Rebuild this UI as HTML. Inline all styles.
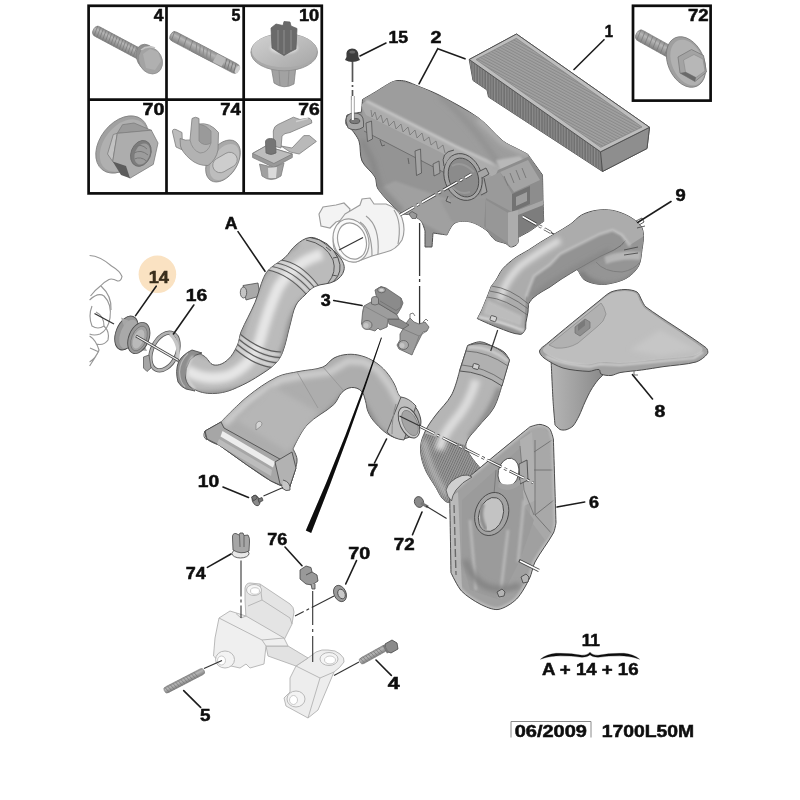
<!DOCTYPE html>
<html lang="en"><head><meta charset="utf-8"><title>Air filter housing - parts diagram 1700L50M</title>
<style>
html,body{margin:0;padding:0;background:#fff}
body{width:800px;height:800px;overflow:hidden}
svg{display:block}
</style></head><body>
<svg width="800" height="800" viewBox="0 0 800 800">
<rect width="800" height="800" fill="#fff"/>

<defs>
<filter id="soft" x="-5%" y="-5%" width="110%" height="110%"><feGaussianBlur stdDeviation="0.75"/></filter>
<filter id="b1" x="-20%" y="-20%" width="140%" height="140%"><feGaussianBlur stdDeviation="1.2"/></filter>
<filter id="b2" x="-30%" y="-30%" width="160%" height="160%"><feGaussianBlur stdDeviation="2.5"/></filter>
<filter id="b4" x="-30%" y="-30%" width="160%" height="160%"><feGaussianBlur stdDeviation="4"/></filter>
<linearGradient id="gBolt" x1="0" y1="0" x2="0" y2="1"><stop offset="0" stop-color="#8c8c8c"/><stop offset=".35" stop-color="#b6b6b6"/><stop offset="1" stop-color="#808080"/></linearGradient>
<linearGradient id="gDisc" x1="0" y1="0" x2="1" y2="1"><stop offset="0" stop-color="#d2d2d2"/><stop offset="1" stop-color="#a6a6a6"/></linearGradient>
<linearGradient id="gHead" x1="0" y1="0" x2="1" y2="1"><stop offset="0" stop-color="#bdbdbd"/><stop offset="1" stop-color="#8a8a8a"/></linearGradient>
<linearGradient id="gBoxTop" x1="0" y1="0" x2="1" y2="1"><stop offset="0" stop-color="#a4a4a4"/><stop offset="1" stop-color="#979797"/></linearGradient>
<linearGradient id="gFilt" gradientUnits="userSpaceOnUse" x1="470" y1="60" x2="650" y2="130"><stop offset="0" stop-color="#9c9c9c"/><stop offset="1" stop-color="#aaaaaa"/></linearGradient>
<pattern id="pleat" width="2.6" height="8" patternUnits="userSpaceOnUse" patternTransform="rotate(-62)"><rect width="2.6" height="8" fill="#a2a2a2"/><rect width="1.1" height="8" fill="#8a8a8a"/></pattern>
<pattern id="pleatS" width="2.7" height="8" patternUnits="userSpaceOnUse"><rect width="2.7" height="8" fill="#6f6f6f"/><rect width="1.2" height="8" fill="#8d8d8d"/></pattern>
<pattern id="corr" width="2.2" height="8" patternUnits="userSpaceOnUse" patternTransform="rotate(25)"><rect width="2.2" height="8" fill="#9a9a9a"/><rect width="0.9" height="8" fill="#727272"/></pattern>
</defs>

<g filter="url(#soft)">
<circle cx="157.400" cy="274.300" r="18.800" fill="#fae2c2"/>
<g fill="none" stroke="#0a0a0a" stroke-width="2.7"><rect x="88.6" y="5.8" width="233.2" height="187.6"/><path d="M166.5 5.8V193.4M243.7 5.8V193.4M88.6 99.6H321.8"/><rect x="633" y="5.8" width="77.6" height="94.8"/></g>
<g transform="translate(93.5 29.5) rotate(28.1)"><rect x="0" y="-5.3" width="59.5" height="10.6" rx="4.2" fill="url(#gBolt)" stroke="#7a7a7a" stroke-width=".6"/><path d="M2.0 -5.3 L3.5 5.3M5.2 -5.3 L6.7 5.3M8.3 -5.3 L9.8 5.3M11.5 -5.3 L13.0 5.3M14.7 -5.3 L16.2 5.3M17.9 -5.3 L19.4 5.3M21.0 -5.3 L22.5 5.3M24.2 -5.3 L25.7 5.3M27.4 -5.3 L28.9 5.3M30.6 -5.3 L32.1 5.3M33.7 -5.3 L35.2 5.3M36.9 -5.3 L38.4 5.3M40.1 -5.3 L41.6 5.3M43.3 -5.3 L44.8 5.3M46.4 -5.3 L47.9 5.3" stroke="#777" stroke-width=".8" fill="none" opacity=".8"/></g>
<g><ellipse cx="147.500" cy="58" rx="10.500" ry="14.500" fill="#8f8f8f" stroke="#7d7d7d" stroke-width=".7" transform="rotate(-28 147.500 58)"/><ellipse cx="150.500" cy="60.500" rx="11.500" ry="14" fill="#a3a3a3" stroke="#858585" stroke-width=".6" transform="rotate(-28 150.500 60.500)"/><path d="M143 54 L150 49 L158 52 L161 61 L155 70 L146 68Z" fill="#b0b0b0"/><path d="M141 50 Q147 45 155 48" stroke="#c4c4c4" stroke-width="1.500" fill="none"/></g>
<g transform="translate(170.6 34.7) rotate(27.6)"><rect x="0" y="-5.1" width="76.6" height="10.2" rx="4.1" fill="url(#gBolt)" stroke="#7a7a7a" stroke-width=".6"/><path d="M2.0 -5.1 L3.5 5.1M8.8 -5.1 L10.3 5.1M15.6 -5.1 L17.1 5.1M22.4 -5.1 L23.9 5.1M29.2 -5.1 L30.7 5.1M36.1 -5.1 L37.6 5.1M42.9 -5.1 L44.4 5.1M49.7 -5.1 L51.2 5.1M56.5 -5.1 L58.0 5.1" stroke="#777" stroke-width=".8" fill="none" opacity=".8"/></g>
<g transform="translate(170.600 34.700) rotate(27.600)"><rect x="26" y="-5.300" width="24" height="10.600" fill="url(#gBolt)"/><path d="M27 -5 l4 10 M31 -5 l4 10 M35 -5 l4 10 M39 -5 l4 10 M43 -5 l4 10" stroke="#8a8a8a" stroke-width="1"/><rect x="50" y="-4.600" width="10" height="9.200" fill="#b9b9b9"/><path d="M61 -4.500 l2 9 M64.500 -4.500 l2 9 M68 -4.500 l2 9 M71.500 -4.500 l2 9" stroke="#777" stroke-width=".9"/><ellipse cx="75.500" cy="0" rx="2" ry="4.200" fill="#cfcfcf"/></g>
<g><path d="M271 66 L274 83 Q284 90 294 84 L296 66Z" fill="#a2a2a2" stroke="#7c7c7c" stroke-width=".7"/><path d="M279 70 L280 86 M289 70 L288 86" stroke="#8a8a8a" stroke-width=".8"/><ellipse cx="284.200" cy="52.200" rx="33.300" ry="18.600" fill="#a9a9a9" stroke="#8a8a8a" stroke-width=".8"/><ellipse cx="284.200" cy="50.500" rx="32.500" ry="16.800" fill="url(#gDisc)"/><ellipse cx="284" cy="48" rx="14" ry="6" fill="#dcdcdc" filter="url(#b1)"/><path d="M271 28 L276 24 L283 25.500 L284 21.500 L290 22 L291 26 L297 28.500 L296 49 L290 52 L284 55.500 L278 52 L272 48Z" fill="#6b6b6b" stroke="#5a5a5a" stroke-width=".7"/><path d="M284 30 L284 54 M278 30 L278 50 M291 30 L291 50" stroke="#8c8c8c" stroke-width="1"/></g>
<g stroke="#7e7e7e" stroke-width=".8"><ellipse cx="122" cy="144.500" rx="22" ry="32" transform="rotate(38 122 144.500)" fill="#a1a1a1"/><ellipse cx="123.500" cy="145.500" rx="19.500" ry="29.500" transform="rotate(38 123.500 145.500)" fill="#b0b0b0" stroke="none"/><path d="M112.700 161.500 L107.500 154 L113.300 134.500 L117.300 133.300Z" fill="#c2c2c2"/><path d="M117.300 133.300 L122.500 124.700 L134 123 L151.800 130.500Z" fill="#9a9a9a"/><path d="M117.300 133.300 L151.300 130.200 L158 143 L153.300 164.400 L130 178.200 L112.700 161.500Z" fill="#adadad"/><path d="M112.700 161.500 L126 166 L130 178.200 L121 175Z" fill="#5c5c5c" stroke="none"/><ellipse cx="140.900" cy="153.400" rx="9.800" ry="13.400" transform="rotate(22 140.900 153.400)" fill="#7c7c7c" stroke="#6a6a6a"/><ellipse cx="142.200" cy="154" rx="7.300" ry="11" transform="rotate(22 142.200 154)" fill="#9c9c9c" stroke="none"/><path d="M135 147 q6 -4 12 2 M134 153 q7 -4 14 2 M134.500 159 q6 -3 12 2" stroke="#787878" stroke-width="1" fill="none"/></g>
<g stroke="#7e7e7e" stroke-width=".8"><ellipse cx="223" cy="161" rx="14.500" ry="23" transform="rotate(32 223 161)" fill="#a9a9a9"/><ellipse cx="224.500" cy="162" rx="12" ry="20" transform="rotate(32 224.500 162)" fill="#bdbdbd" stroke="none"/><rect x="212" y="155" width="26" height="15" rx="7.500" transform="rotate(-30 225 162.500)" fill="#cdcdcd" stroke="#8a8a8a"/><path d="M172.500 132 Q172 128.500 176 129.500 L182 132.500 L182.500 150 L176 147Z" fill="#bcbcbc"/><path d="M180 138.500 Q186 141 190 140 L192 118.500 Q195.500 116 199 118.500 L199 124 Q210 122 218.500 132.500 L218 150 Q216 160 208 165.500 Q198 166 190 159 Q182 152 180.500 146Z" fill="#b2b2b2"/><path d="M199 124 L199 141 Q204 147 211 143 L211 131 Q206 125 199 124Z" fill="#9a9a9a" stroke="#888"/><path d="M190 140 Q192 150 200 153 Q208 153 211 143" fill="none" stroke="#8c8c8c"/></g>
<g stroke="#7e7e7e" stroke-width=".8"><path d="M273.300 131 Q274 126 278 124.500 L293.400 117.200 L300 119.500 L309 118 Q312.500 119.500 311.800 123 L290 132.500 Q284 133 282 136 L281 148 L273.500 146Z" fill="#b5b5b5"/><path d="M296 121.500 L308 118.500" stroke="#d0d0d0" stroke-width="1.500"/><path d="M281 146 L292 148 L303.800 135.600 L309.500 135.600 L316.400 141.400 L299.200 154 L290 152Z" fill="#b9b9b9"/><path d="M252.600 153.400 L265.800 146 L292.300 154 L292.300 157.500 L273.900 167.500 L252.600 157.500Z" fill="#999"/><path d="M252.600 153.400 L265.800 146 L292.300 154 L273.900 163.500Z" fill="#bdbdbd"/><path d="M265.500 142 Q265.500 138.500 270.500 138.500 Q275.600 138.500 275.600 142 L276 153 Q271 156 266 153Z" fill="#747474" stroke="#666"/><path d="M259.500 164 L262 176 Q271 183 281 176 L284 163 L274 167.500Z" fill="#a0a0a0"/><path d="M268 168 L268.500 178 L276 178 L277 167Z" fill="#dadada" stroke="none"/></g>
<g transform="translate(636.5 33.5) rotate(29.1)"><rect x="0" y="-5.8" width="45.2" height="11.5" rx="4.6" fill="url(#gBolt)" stroke="#7a7a7a" stroke-width=".6"/><path d="M2.0 -5.8 L3.5 5.8M6.5 -5.8 L8.0 5.8M11.0 -5.8 L12.5 5.8M15.6 -5.8 L17.1 5.8M20.1 -5.8 L21.6 5.8M24.6 -5.8 L26.1 5.8M29.1 -5.8 L30.6 5.8M33.6 -5.8 L35.1 5.8" stroke="#777" stroke-width=".8" fill="none" opacity=".8"/></g>
<g stroke="#7a7a7a" stroke-width=".8"><ellipse cx="686" cy="62" rx="18" ry="26.500" transform="rotate(-24 686 62)" fill="#9f9f9f"/><ellipse cx="687.500" cy="62.500" rx="15.500" ry="24" transform="rotate(-24 687.500 62.500)" fill="#b1b1b1" stroke="none"/><path d="M678 57 L691.500 49.500 L703.500 55.500 L706.500 72 L695 81.500 L680 73Z" fill="#a3a3a3"/><path d="M683.500 60 L694 54.500 L703 59 L705 71 L696 77.500 L685.500 72Z" fill="#b7b7b7" stroke="#8a8a8a" stroke-width=".6"/><path d="M680 73 L685.500 72 L696 77.500 L695 81.500Z" fill="#6a6a6a" stroke="none"/></g>
<g fill="#fafafa" stroke="#979797" stroke-width="1.150"><path d="M89.600 255.500 Q100 256 111.500 266 Q120 271 122 276.500 Q121 281.500 117.600 281 Q112 278 109 279.400 Q104 282 101 285.500 Q95 290 90.500 296" fill="none"/><path d="M89.600 300 Q98 292 104 296 Q112 304 110 318 Q108 330 100 334 Q94 336 89.600 334" fill="none"/><path d="M101 286 Q112 296 111 310 M96 312 Q104 316 104 326 M92 306 Q88 316 92 326 Q98 330 104 326 M104 326 Q110 332 108 340 Q104 346 96 344 M89.600 336 Q96 340 99 350 Q96 358 89.600 362 M90 348 L99 352 M89.600 366 L96 356" fill="none"/></g>
<g stroke="#4c4c4c" stroke-width=".9"><ellipse cx="126.500" cy="333" rx="10.500" ry="17.800" transform="rotate(22 126.500 333)" fill="#969696"/><path d="M121 317.500 L134 323 L147 351 L132 349Z" fill="#a6a6a6" stroke="none"/><ellipse cx="128.500" cy="334" rx="8" ry="15" transform="rotate(22 128.500 334)" fill="#a9a9a9" stroke="none"/><ellipse cx="138.800" cy="338" rx="10" ry="16.300" transform="rotate(22 138.800 338)" fill="#989898"/><ellipse cx="139" cy="338.500" rx="7.300" ry="13" transform="rotate(22 139 338.500)" fill="#a2a2a2" stroke="#707070" stroke-width=".7"/><ellipse cx="138.500" cy="339" rx="5" ry="10" transform="rotate(22 138.500 339)" fill="#bababa" stroke="none"/></g>
<g fill="none"><ellipse cx="164.500" cy="351.500" rx="12.500" ry="20" transform="rotate(25 164.500 351.500)" stroke="#5a5a5a" stroke-width="4.200"/><ellipse cx="164.500" cy="351.500" rx="12.500" ry="20" transform="rotate(25 164.500 351.500)" stroke="#b2b2b2" stroke-width="2.600"/><path d="M170 334 Q181 344 177 362" stroke="#c6c6c6" stroke-width="3.400"/><path d="M143.500 357 L149 355 L151 368 L147 371.500 L143.500 368Z" fill="#a5a5a5" stroke="#5a5a5a" stroke-width=".8"/></g>
<path d="M94.500 313.500 L114 324" stroke="#333" stroke-width="1.300" fill="none"/>
<path d="M136 336 L178.500 360.500" stroke="#444" stroke-width="2.600" fill="none"/><path d="M136.500 336.300 L178 360.200" stroke="#f4f4f4" stroke-width="1.200" fill="none"/>
<g fill="#f3f3f3" stroke="#9c9c9c" stroke-width="1.150"><path d="M319 214 L323 207 L336 205 L344 203 L350 209 L348 218 L336 222 L330 228 L321 226Z"/><path d="M345 214 L360 205 L362 199 L370 198 L374 204 L386 204 Q398 208 402 218 Q406 230 402 240 Q396 250 386 252 L372 256 L356 262 Q340 262 334 248 Q330 232 345 214Z"/><ellipse cx="351" cy="240.5" rx="17.5" ry="22" transform="rotate(-18 351 240.5)" fill="#fafafa"/><ellipse cx="352" cy="241" rx="14" ry="18.5" transform="rotate(-18 352 241)" fill="#fff"/><path d="M360 222 Q372 230 372 256 M366 216 Q380 226 378 254 M394 210 Q402 222 398 244" fill="none"/></g>
<clipPath id="c7"><path d="M205.0 431.0 C205.0 431.0 221.0 422.0 221.0 422.0 C221.0 422.0 237.2 404.9 247.0 397.0 C256.8 389.1 265.7 382.6 277.0 377.0 C284.1 373.5 291.2 373.2 299.0 371.5 C307.4 369.7 315.0 370.1 323.0 367.0 C327.6 365.2 329.6 360.3 334.0 358.0 C338.3 355.8 342.6 354.8 347.5 354.4 C352.3 354.0 356.6 354.5 361.3 355.8 C366.4 357.2 370.6 359.2 375.0 362.0 C379.3 364.8 382.6 367.8 386.0 371.6 C389.4 375.5 391.8 379.4 394.3 384.0 C396.6 388.1 396.8 392.7 399.8 396.4 C401.8 398.9 405.5 398.5 408.0 400.5 C412.0 403.7 415.9 406.4 418.0 411.0 C420.3 416.1 422.1 421.8 420.0 427.0 C417.8 432.5 412.7 436.2 407.0 438.0 C401.6 439.7 396.1 438.5 391.0 436.0 C384.4 432.8 380.0 427.8 375.0 422.5 C371.9 419.2 369.8 415.7 368.0 411.5 C366.4 407.9 366.6 404.3 365.4 400.5 C364.3 397.1 363.9 393.5 361.3 391.0 C358.7 388.5 355.2 387.3 351.6 387.5 C347.9 387.8 344.7 389.7 342.0 392.3 C338.3 395.9 337.5 401.1 333.8 404.6 C325.1 412.6 315.0 416.3 307.0 425.0 C300.4 432.2 293.0 449.0 293.0 449.0 C293.0 449.0 296.6 455.2 297.0 459.0 C297.4 462.9 296.0 466.2 295.0 470.0 C293.2 476.7 289.0 489.0 289.0 489.0 C289.0 489.0 277.0 484.4 271.0 481.0 C262.2 476.0 255.3 470.7 247.0 465.0 C237.1 458.1 219.0 445.0 219.0 445.0 C219.0 445.0 210.3 442.3 207.0 439.0 C205.0 437.0 205.0 431.0 205.0 431.0Z"/></clipPath>
<path d="M205.0 431.0 C205.0 431.0 221.0 422.0 221.0 422.0 C221.0 422.0 237.2 404.9 247.0 397.0 C256.8 389.1 265.7 382.6 277.0 377.0 C284.1 373.5 291.2 373.2 299.0 371.5 C307.4 369.7 315.0 370.1 323.0 367.0 C327.6 365.2 329.6 360.3 334.0 358.0 C338.3 355.8 342.6 354.8 347.5 354.4 C352.3 354.0 356.6 354.5 361.3 355.8 C366.4 357.2 370.6 359.2 375.0 362.0 C379.3 364.8 382.6 367.8 386.0 371.6 C389.4 375.5 391.8 379.4 394.3 384.0 C396.6 388.1 396.8 392.7 399.8 396.4 C401.8 398.9 405.5 398.5 408.0 400.5 C412.0 403.7 415.9 406.4 418.0 411.0 C420.3 416.1 422.1 421.8 420.0 427.0 C417.8 432.5 412.7 436.2 407.0 438.0 C401.6 439.7 396.1 438.5 391.0 436.0 C384.4 432.8 380.0 427.8 375.0 422.5 C371.9 419.2 369.8 415.7 368.0 411.5 C366.4 407.9 366.6 404.3 365.4 400.5 C364.3 397.1 363.9 393.5 361.3 391.0 C358.7 388.5 355.2 387.3 351.6 387.5 C347.9 387.8 344.7 389.7 342.0 392.3 C338.3 395.9 337.5 401.1 333.8 404.6 C325.1 412.6 315.0 416.3 307.0 425.0 C300.4 432.2 293.0 449.0 293.0 449.0 C293.0 449.0 296.6 455.2 297.0 459.0 C297.4 462.9 296.0 466.2 295.0 470.0 C293.2 476.7 289.0 489.0 289.0 489.0 C289.0 489.0 277.0 484.4 271.0 481.0 C262.2 476.0 255.3 470.7 247.0 465.0 C237.1 458.1 219.0 445.0 219.0 445.0 C219.0 445.0 210.3 442.3 207.0 439.0 C205.0 437.0 205.0 431.0 205.0 431.0Z" fill="#adadad" stroke="#4c4c4c" stroke-width="1"/>
<g clip-path="url(#c7)"><path d="M224 424 L250 400 L280 380 L300 376 L330 372 L348 361 L364 362 L378 370 L390 386 L400 404" stroke="#cdcdcd" stroke-width="7" fill="none" filter="url(#b2)"/><path d="M296 452 L310 430 L334 408 L344 396 L358 396 L366 410 L376 428 L392 442" stroke="#858585" stroke-width="6" fill="none" filter="url(#b2)"/><path d="M236 420 L288 452 L318 412 L272 386Z" fill="#b6b6b6" filter="url(#b2)"/><path d="M297 372 L318 408 M323 367 L343 390" stroke="#949494" stroke-width=".8" fill="none"/></g>
<g stroke="#4c4c4c" stroke-width=".9"><path d="M205 431 L221 422 L224 428 L296 468 L289 489 L271 481 L247 465 L219 445 L207 439Z" fill="#a6a6a6"/><path d="M222.500 431 L275 462 L273 467.500 L220.500 436.500Z" fill="#ececec" stroke="none"/><path d="M219 439 L272 470 L271 476 L217 444Z" fill="#bcbcbc" stroke="none"/><path d="M275 462 L292 452 L296 468 L289 489 L280 484Z" fill="#b2b2b2"/><path d="M283 480 Q291 482 290 490 Q286 492 282 488" fill="#c6c6c6"/><path d="M205 431 q-3 6 2 9" fill="none"/></g>
<path d="M256 424 q3 -5 6 -1 q0 3 -2 4 l-4 3z" fill="#d5d5d5" stroke="#777" stroke-width=".6"/>
<g stroke="#4c4c4c" stroke-width=".9"><path d="M401 397 Q409 398 416 406 L404 440 Q393 439 387 432Z" fill="#bdbdbd"/><path d="M396 404 Q392 416 392 434" stroke="#8c8c8c" stroke-width="1" fill="none"/><ellipse cx="409" cy="422.500" rx="9.300" ry="16.500" transform="rotate(-24 409 422.500)" fill="#c9c9c9"/><ellipse cx="410" cy="423" rx="7" ry="13.500" transform="rotate(-24 410 423)" fill="#a4a4a4" stroke="#777" stroke-width=".7"/></g>
<clipPath id="cA"><path d="M192.5 352.5 C196.7 351.8 200.4 353.9 204.0 356.0 C208.1 358.4 209.4 364.2 214.0 365.0 C219.0 365.8 223.7 363.3 227.5 360.0 C232.3 355.9 234.8 350.7 237.5 345.0 C239.5 340.8 239.2 336.4 241.0 332.0 C245.4 321.4 250.6 313.1 255.0 302.5 C258.6 293.9 260.0 286.0 263.7 277.5 C265.3 274.0 267.2 271.1 270.0 268.5 C274.7 264.0 280.2 261.9 285.0 257.5 C289.3 253.6 291.4 248.6 296.0 245.0 C300.3 241.5 304.5 238.1 310.0 237.5 C314.6 237.0 318.6 239.4 322.5 242.0 C329.3 246.5 335.0 251.0 340.0 257.5 C342.8 261.1 345.0 265.5 344.0 270.0 C343.0 274.9 339.3 278.5 335.0 281.0 C328.7 284.6 321.6 283.4 315.0 286.5 C310.8 288.4 308.3 291.8 305.0 295.0 C301.6 298.3 298.1 300.8 296.0 305.0 C292.7 311.5 292.0 318.0 290.0 325.0 C287.3 334.6 286.1 343.2 282.5 352.5 C280.8 357.0 278.4 360.6 275.0 364.0 C270.4 368.6 265.5 371.5 260.0 375.0 C254.1 378.8 248.9 382.0 242.5 385.0 C235.7 388.2 229.8 391.1 222.5 392.5 C215.6 393.8 209.3 394.0 202.5 392.5 C196.8 391.3 192.3 388.3 187.5 385.0 C183.9 382.5 180.0 380.2 178.7 376.0 C177.1 370.6 177.2 364.8 180.0 360.0 C182.6 355.6 187.5 353.3 192.5 352.5Z"/></clipPath>
<g stroke="#4c4c4c" stroke-width=".8"><path d="M243 285.500 L258 283 L260 296 L246 300 Z" fill="#a9a9a9"/><ellipse cx="243.500" cy="292.500" rx="3.200" ry="5.500" fill="#c4c4c4"/></g>
<path d="M192.5 352.5 C196.7 351.8 200.4 353.9 204.0 356.0 C208.1 358.4 209.4 364.2 214.0 365.0 C219.0 365.8 223.7 363.3 227.5 360.0 C232.3 355.9 234.8 350.7 237.5 345.0 C239.5 340.8 239.2 336.4 241.0 332.0 C245.4 321.4 250.6 313.1 255.0 302.5 C258.6 293.9 260.0 286.0 263.7 277.5 C265.3 274.0 267.2 271.1 270.0 268.5 C274.7 264.0 280.2 261.9 285.0 257.5 C289.3 253.6 291.4 248.6 296.0 245.0 C300.3 241.5 304.5 238.1 310.0 237.5 C314.6 237.0 318.6 239.4 322.5 242.0 C329.3 246.5 335.0 251.0 340.0 257.5 C342.8 261.1 345.0 265.5 344.0 270.0 C343.0 274.9 339.3 278.5 335.0 281.0 C328.7 284.6 321.6 283.4 315.0 286.5 C310.8 288.4 308.3 291.8 305.0 295.0 C301.6 298.3 298.1 300.8 296.0 305.0 C292.7 311.5 292.0 318.0 290.0 325.0 C287.3 334.6 286.1 343.2 282.5 352.5 C280.8 357.0 278.4 360.6 275.0 364.0 C270.4 368.6 265.5 371.5 260.0 375.0 C254.1 378.8 248.9 382.0 242.5 385.0 C235.7 388.2 229.8 391.1 222.5 392.5 C215.6 393.8 209.3 394.0 202.5 392.5 C196.8 391.3 192.3 388.3 187.5 385.0 C183.9 382.5 180.0 380.2 178.7 376.0 C177.1 370.6 177.2 364.8 180.0 360.0 C182.6 355.6 187.5 353.3 192.5 352.5Z" fill="#bbbbbb" stroke="#4c4c4c" stroke-width="1"/>
<g clip-path="url(#cA)"><path d="M186 370 Q205 382 228 376 Q252 366 260 340 Q268 310 278 288 Q294 262 322 254" stroke="#e6e6e6" stroke-width="11" fill="none" filter="url(#b2)"/><path d="M190 394 Q230 400 262 380 Q284 364 290 330 Q296 302 320 290" stroke="#8a8a8a" stroke-width="7" fill="none" filter="url(#b2)"/><path d="M196 351 Q216 361 230 355 Q239 344 243 326 Q251 300 261 280 Q269 264 298 243" stroke="#939393" stroke-width="4" fill="none" filter="url(#b2)"/><path d="M239.500 336.500 Q261 354.500 280.500 354.700 M238 341.500 Q259 359.500 279.500 360.200 M236 346.500 Q257 364.500 277.500 365.500" stroke="#e2e2e2" stroke-width="2" fill="none" filter="url(#b1)"/><path d="M240 334 Q262 352 281 352 M238.500 339 Q260 357 280 357.500 M237 344 Q258 362 278.500 363 M235 349 Q256 367 276 368" stroke="#5e5e5e" stroke-width="1.100" fill="none"/><path d="M270 268.200 Q290 272 308 292 M274 264.700 Q294 268 312 288.500 M278 261.500 Q298 264 316 286" stroke="#e2e2e2" stroke-width="2" fill="none" filter="url(#b1)"/><path d="M268 270 Q288 274 306 294 M272 266.500 Q292 270 310 290 M276 263 Q296 266 314 287 M280 260 Q300 262 318 285" stroke="#5e5e5e" stroke-width="1.100" fill="none"/></g>
<g stroke="#4c4c4c" stroke-width=".9" fill="none"><path d="M310 237.500 Q330 240 338 258 Q344 272 333 282" stroke-width="1"/><path d="M306 240 Q326 244 333 260 Q337 272 328 283" /><path d="M326 247 L331 251 M333 258 L338 257 M332 275 L337 276" /></g>
<g stroke="#4c4c4c" stroke-width=".9"><path d="M192 350 Q183 354 178.500 362 Q175 371 178 382 Q181 387 186 389 L195 391 Q187 386 185.500 378 Q185 368 190 360 Q195 354 202 353Z" fill="#8e8e8e"/><path d="M188 353.500 Q180 361 179.500 372 Q180 382 185 387" stroke="#b4b4b4" stroke-width="1.200" fill="none"/><path d="M193 356 Q187 364 187.500 375 Q189 384 195 389" stroke="#d6d6d6" stroke-width="2" fill="none" filter="url(#b1)"/></g>
<g stroke="#4c4c4c" stroke-width=".9"><path d="M469.200 59.500 L516.500 34 L649.500 127.300 L647 148.500 L602.500 171.500 L488.500 97 L487 90 L473 80.500Z" fill="#7d7d7d"/><path d="M469.200 59.500 L600.500 151.800 L602.500 171.500 L488.500 97 L487 90 L473 80.500Z" fill="url(#pleatS)" stroke="none"/><path d="M600.500 151.800 L649.500 127.300 L647 148.500 L602.500 171.500Z" fill="#8e8e8e"/><path d="M469.200 59.500 L516.500 34 L649.500 127.300 L600.500 151.800Z" fill="#bdbdbd"/><path d="M476 59.500 L516.300 38.300 L642 127 L600.800 147.300Z" fill="url(#pleat)" stroke="#7a7a7a" stroke-width=".6"/></g>
<clipPath id="cB"><path d="M361.5 112.0 C361.5 112.0 362.5 99.5 362.5 99.5 C362.5 99.5 372.5 93.7 377.0 91.0 C381.1 88.5 385.7 85.2 390.0 83.0 C392.1 81.9 394.7 80.9 397.0 80.6 C399.7 80.3 402.9 80.5 405.5 81.2 C409.9 82.4 414.8 84.8 419.0 86.5 C425.3 89.1 432.9 91.8 439.0 95.0 C451.8 101.7 467.0 109.6 478.7 118.0 C487.3 124.2 494.7 134.4 503.0 141.0 C507.1 144.3 513.0 146.5 517.7 149.0 C520.8 150.6 527.5 154.0 527.5 154.0 C527.5 154.0 542.5 175.0 542.5 175.0 C542.5 175.0 543.0 200.0 543.0 200.0 C543.0 200.0 543.7 221.3 543.7 221.3 C543.7 221.3 530.0 231.0 530.0 231.0 C530.0 231.0 518.0 237.5 518.0 237.5 C518.0 237.5 518.7 242.1 517.5 243.7 C516.1 245.5 513.3 247.0 511.0 247.0 C509.1 247.0 507.7 244.5 506.0 243.7 C502.7 242.2 498.0 242.1 495.0 240.0 C491.5 237.6 489.4 232.5 486.0 230.0 C481.6 226.8 475.9 223.2 470.6 222.0 C465.8 220.9 459.3 220.6 455.0 223.0 C451.0 225.2 447.0 235.0 447.0 235.0 C447.0 235.0 433.0 233.0 433.0 233.0 C433.0 233.0 432.0 247.0 432.0 247.0 C432.0 247.0 425.0 247.0 425.0 247.0 C425.0 247.0 425.0 231.0 425.0 231.0 C425.0 231.0 423.2 223.6 421.0 221.0 C418.6 218.2 414.4 216.4 411.0 215.0 C408.0 213.8 403.5 215.0 401.0 213.0 C392.8 206.5 384.1 197.5 378.0 189.0 C375.7 185.8 376.9 180.4 375.0 177.0 C371.8 171.4 364.6 166.9 362.0 161.0 C359.4 155.2 361.0 147.1 359.0 141.0 C357.7 137.1 352.0 130.0 352.0 130.0 C352.0 130.0 346.8 126.5 346.0 124.0 C345.1 121.3 347.0 115.0 347.0 115.0 C347.0 115.0 361.5 112.0 361.5 112.0Z"/></clipPath>
<path d="M361.5 112.0 C361.5 112.0 362.5 99.5 362.5 99.5 C362.5 99.5 372.5 93.7 377.0 91.0 C381.1 88.5 385.7 85.2 390.0 83.0 C392.1 81.9 394.7 80.9 397.0 80.6 C399.7 80.3 402.9 80.5 405.5 81.2 C409.9 82.4 414.8 84.8 419.0 86.5 C425.3 89.1 432.9 91.8 439.0 95.0 C451.8 101.7 467.0 109.6 478.7 118.0 C487.3 124.2 494.7 134.4 503.0 141.0 C507.1 144.3 513.0 146.5 517.7 149.0 C520.8 150.6 527.5 154.0 527.5 154.0 C527.5 154.0 542.5 175.0 542.5 175.0 C542.5 175.0 543.0 200.0 543.0 200.0 C543.0 200.0 543.7 221.3 543.7 221.3 C543.7 221.3 530.0 231.0 530.0 231.0 C530.0 231.0 518.0 237.5 518.0 237.5 C518.0 237.5 518.7 242.1 517.5 243.7 C516.1 245.5 513.3 247.0 511.0 247.0 C509.1 247.0 507.7 244.5 506.0 243.7 C502.7 242.2 498.0 242.1 495.0 240.0 C491.5 237.6 489.4 232.5 486.0 230.0 C481.6 226.8 475.9 223.2 470.6 222.0 C465.8 220.9 459.3 220.6 455.0 223.0 C451.0 225.2 447.0 235.0 447.0 235.0 C447.0 235.0 433.0 233.0 433.0 233.0 C433.0 233.0 432.0 247.0 432.0 247.0 C432.0 247.0 425.0 247.0 425.0 247.0 C425.0 247.0 425.0 231.0 425.0 231.0 C425.0 231.0 423.2 223.6 421.0 221.0 C418.6 218.2 414.4 216.4 411.0 215.0 C408.0 213.8 403.5 215.0 401.0 213.0 C392.8 206.5 384.1 197.5 378.0 189.0 C375.7 185.8 376.9 180.4 375.0 177.0 C371.8 171.4 364.6 166.9 362.0 161.0 C359.4 155.2 361.0 147.1 359.0 141.0 C357.7 137.1 352.0 130.0 352.0 130.0 C352.0 130.0 346.8 126.5 346.0 124.0 C345.1 121.3 347.0 115.0 347.0 115.0 C347.0 115.0 361.5 112.0 361.5 112.0Z" fill="#949494" stroke="#4c4c4c" stroke-width="1"/>
<g clip-path="url(#cB)"><path d="M378 189 L395 181 L447 199 L486 196 L500 228 L486 230 L470 222 L455 223 L447 236 L421 222 L401 213Z" fill="#a0a0a0" filter="url(#b1)"/><path d="M440 200 L486 197 L494 236 L470 222 L452 222Z" fill="#999" filter="url(#b1)"/><path d="M362 140 L372 160 L380 188 L402 212" stroke="#868686" stroke-width="5" fill="none" filter="url(#b2)"/><path d="M362 108 L372 104 L456 148 L500 168 L492 182 L447 174 L364 131Z" fill="#9f9f9f"/><path d="M364 131 L447 174" stroke="#6e6e6e" stroke-width="1" fill="none"/><path d="M362 100 L393 80 L420 86 L480 118 L504 141 L530 154 L534 165 L500 170 L456 147 L366 101Z" fill="#9d9d9d"/><path d="M361 105 L366.500 100.500 L456 146 L500 168 L496 178 L452 158 L366 115Z" fill="#acacac"/><path d="M366.500 101 L456 146.500 L498 166" stroke="#c4c4c4" stroke-width="3" filter="url(#b1)" fill="none"/><path d="M440 96 Q470 120 500 166" stroke="#939393" stroke-width="6" filter="url(#b2)" fill="none"/><path d="M478 119 L502 142 L528 155" stroke="#b6b6b6" stroke-width="4" filter="url(#b2)" fill="none"/><path d="M496 160 L520 156 L528 166 L502 176Z" fill="#b8b8b8" filter="url(#b1)"/><path d="M371 110 l1 7 l3 -5 l2 8 l4 -5 l2 8 l4 -5 l2 8 l5 -5 l2 8 l5 -5 l2 8 l5 -5 l2 8 l5 -5 l2 8 l5 -5 l2 8 l5 -4 l2 8 l5 -4 l2 8 l5 -4 l2 8" stroke="#767676" stroke-width=".8" fill="none"/><path d="M498 170 L530 156 L543 176 L544 222 L518 238 L511 247 L494 240 L484 226 L486 196Z" fill="#8d8d8d"/><path d="M500 172 L528 160 L540 180 L514 192Z" fill="#a4a4a4"/><path d="M504 176 l4 10 M510 173 l4 10 M516 170 l4 10 M522 168 l4 10" stroke="#7a7a7a" stroke-width="1"/><path d="M512 194 L530 186 L530 204 L512 212Z" fill="#727272"/><path d="M516 197 L527 192 L527 201 L516 206Z" fill="#9e9e9e"/><path d="M518 210 L543.500 200 L543.700 221.300 L518 237.500Z" fill="#7d7d7d"/><path d="M518 210 L543.500 200 L543.500 205 L518 215Z" fill="#a6a6a6"/><path d="M508 212.500 L518 210 L518 244 L511 247 L508 244Z" fill="#adadad"/><path d="M486 200 L508 213 L508 243 L486 228Z" fill="#979797"/><path d="M484 180 L500 172 L512 194 L512 212 L486 198Z" fill="#9a9a9a"/></g>
<g stroke="#4c4c4c" stroke-width=".8"><path d="M346 121 Q346 113 354 113 Q363.500 113 363.500 122 L363.500 127 Q356 132 348 128Z" fill="#a6a6a6"/><ellipse cx="354.800" cy="121" rx="5" ry="2.600" fill="#7a7a7a"/></g>
<g stroke="#4c4c4c" stroke-width=".7" fill="#a3a3a3"><path d="M366 123 l5.500 -2 l1 18 l-5 2.500z"/><path d="M415 151 l5.500 -2 l1 24 l-5 2.500z"/><path d="M433 164 l6 -3 l1 12 l-6 3z"/><path d="M380 140 l2 6 l3 -1 M408 158 l1 6" fill="none"/></g>
<g stroke="#4c4c4c" stroke-width=".9"><ellipse cx="463" cy="177" rx="18.500" ry="24" transform="rotate(-20 463 177)" fill="#a5a5a5"/><ellipse cx="463.500" cy="177.500" rx="14.500" ry="20" transform="rotate(-20 463.500 177.500)" fill="#8b8b8b"/><path d="M452 166 Q462 160 474 172 M450 184 Q458 196 470 192" fill="none" stroke="#999" stroke-width="2"/><path d="M444 166 Q440 152 454 150 M478 172 l8 -4 l3 6 l-7 4 M484 178 l3 14 l-6 3 M448 196 l-2 5 l5 2" fill="#a5a5a5"/></g>
<g stroke="#4c4c4c" stroke-width=".7" fill="#9a9a9a"><path d="M409 214 l3 -2.500 l5 3 l-1 4 l-4 0z"/></g>
<path d="M400.0 215.0 L471.5 174.0" stroke="#3a3a3a" stroke-width="3.0" stroke-dasharray="16 3 3 3" fill="none"/><path d="M400.0 215.0 L471.5 174.0" stroke="#fff" stroke-width="1.6" stroke-dasharray="16 3 3 3" fill="none"/>
<path d="M522.5 216.5 L551.0 232.5" stroke="#3a3a3a" stroke-width="3.0" stroke-dasharray="16 3 3 3" fill="none"/><path d="M522.5 216.5 L551.0 232.5" stroke="#fff" stroke-width="1.6" stroke-dasharray="16 3 3 3" fill="none"/>
<path d="M339 250 L363 237.500" stroke="#333" stroke-width="1.2" fill="none"/>
<path d="M551 232.500 L566 241" stroke="#333" stroke-width="1.2" stroke-dasharray="9 2 2 2" fill="none"/>
<path d="M419.600 223 L419.600 327" stroke="#333" stroke-width="1.300" stroke-dasharray="53 3 3 4 41" fill="none"/>
<path d="M352.500 62 L352.500 100" stroke="#555" stroke-width="1.700" stroke-dasharray="20 3 2 3 12" fill="none"/>
<path d="M352.800 96 L352.800 120" stroke="#fff" stroke-width="2.400" fill="none"/><path d="M351.3 96 L351.3 120 M354.300 96 L354.300 120" stroke="#666" stroke-width=".6" fill="none"/>
<g><path d="M346.500 57 Q345 49 352 48.500 Q359 48.500 358.500 57 L360 60 Q352 64 345 60Z" fill="#3c3c3c"/><ellipse cx="352.300" cy="52" rx="3" ry="1.600" fill="#666"/></g>
<g stroke="#5e5e5e" stroke-width=".8"><path d="M403 329 L407 322 L410 318 L414 322 L419 324 L425 322 L429 327 L427 331 L423 332 L414 350 L412 355 L399 349 L397 345 L400 340 L400 334Z" fill="#9c9c9c"/><path d="M403 329 L419 336 L427 331 M419 336 L414 350" fill="none" stroke="#787878"/><path d="M410 318 l0 -4 l3 -1 l2 3 M423 322 l3 -3 l2 2" fill="none"/><ellipse cx="403.500" cy="345" rx="5" ry="4.500" fill="#ababab"/><ellipse cx="402" cy="345.500" rx="2.500" ry="2.500" fill="#c4c4c4" stroke="none"/><path d="M388 319 L399 319 L409 325 L403 329 L389 324Z" fill="#8c8c8c"/><path d="M364 306 L371 302 L380 304 L397 315 L399 319 L388 319 L387 327 L380 330 L378 328 L375 331 L365 328 L361.500 324 L362.500 313Z" fill="#9d9d9d"/><path d="M364 306 L388 319 L387 327 M364 306 L362.500 313" fill="none" stroke="#808080"/><ellipse cx="367" cy="325" rx="5" ry="4.500" fill="#adadad"/><ellipse cx="366" cy="325.500" rx="2.500" ry="2.500" fill="#c6c6c6" stroke="none"/><path d="M375 290 L381 286.500 L386 288 L401 298 L403 303 L401 308 L397 314.500 L379 304 L376 295Z" fill="#8b8b8b"/><path d="M380 301 L396 310.500 L401 307 L401 298" fill="none" stroke="#707070"/><ellipse cx="381.500" cy="290" rx="4" ry="2.800" fill="#a9a9a9"/><ellipse cx="381.500" cy="290.200" rx="2" ry="1.400" fill="#d0d0d0" stroke="none"/><path d="M371.500 299 Q371.500 296.500 375 296.500 Q378.500 296.500 378.500 299 L378.500 304 Q375 306 371.500 304Z" fill="#a2a2a2"/></g>
<clipPath id="cL"><path d="M467.7 345.5 C467.7 345.5 475.5 341.7 480.0 341.8 C484.4 341.9 487.9 344.3 492.0 346.0 C496.3 347.8 500.3 349.1 504.0 352.0 C506.7 354.1 509.5 360.0 509.5 360.0 C509.5 360.0 502.0 385.0 502.0 385.0 C502.0 385.0 498.0 400.6 493.7 408.0 C489.3 415.7 482.9 420.5 477.5 427.5 C473.2 433.0 467.8 437.0 466.0 443.7 C464.9 447.7 467.8 451.4 470.0 455.0 C473.5 460.7 482.0 470.0 482.0 470.0 C482.0 470.0 460.0 500.0 460.0 500.0 C460.0 500.0 450.7 504.3 446.6 502.0 C440.6 498.6 438.7 491.8 435.0 486.0 C430.8 479.4 426.7 473.9 424.0 466.5 C421.6 460.0 420.3 453.9 420.6 447.0 C420.8 441.0 423.0 436.1 425.5 430.7 C428.1 425.1 431.4 421.0 435.0 416.0 C440.5 408.4 447.0 403.2 451.5 395.0 C455.8 387.1 459.6 370.6 459.6 370.6 C459.6 370.6 467.7 345.5 467.7 345.5Z"/></clipPath>
<path d="M467.7 345.5 C467.7 345.5 475.5 341.7 480.0 341.8 C484.4 341.9 487.9 344.3 492.0 346.0 C496.3 347.8 500.3 349.1 504.0 352.0 C506.7 354.1 509.5 360.0 509.5 360.0 C509.5 360.0 502.0 385.0 502.0 385.0 C502.0 385.0 498.0 400.6 493.7 408.0 C489.3 415.7 482.9 420.5 477.5 427.5 C473.2 433.0 467.8 437.0 466.0 443.7 C464.9 447.7 467.8 451.4 470.0 455.0 C473.5 460.7 482.0 470.0 482.0 470.0 C482.0 470.0 460.0 500.0 460.0 500.0 C460.0 500.0 450.7 504.3 446.6 502.0 C440.6 498.6 438.7 491.8 435.0 486.0 C430.8 479.4 426.7 473.9 424.0 466.5 C421.6 460.0 420.3 453.9 420.6 447.0 C420.8 441.0 423.0 436.1 425.5 430.7 C428.1 425.1 431.4 421.0 435.0 416.0 C440.5 408.4 447.0 403.2 451.5 395.0 C455.8 387.1 459.6 370.6 459.6 370.6 C459.6 370.6 467.7 345.5 467.7 345.5Z" fill="#b5b5b5" stroke="#4c4c4c" stroke-width="1"/>
<g clip-path="url(#cL)"><path d="M420 432 L468 446 L486 470 L452 510 L418 470Z" fill="url(#corr)"/><path d="M476 380 Q470 404 452 424 Q440 440 440 450" stroke="#dcdcdc" stroke-width="9" fill="none" filter="url(#b2)"/><path d="M500 388 Q492 412 470 438" stroke="#808080" stroke-width="5" fill="none" filter="url(#b2)"/><path d="M424 440 Q428 470 448 496" stroke="#bdbdbd" stroke-width="4" fill="none" filter="url(#b2)"/></g>
<g stroke="#4c4c4c" stroke-width=".9"><path d="M467.700 345.500 Q480 341.500 492 346 Q504 351 509.500 360 L502 386 Q482 372 459.600 371Z" fill="#b0b0b0"/><path d="M466 351 Q488 352 508 366 M462 365 Q484 367 504 381" fill="none" stroke="#6a6a6a"/><path d="M468 347.500 Q488 346 508 361" fill="none" stroke="#d8d8d8" stroke-width="2" filter="url(#b1)"/><rect x="473" y="364" width="6" height="5" rx="1" fill="#d0d0d0" transform="rotate(15 476 366)"/></g>
<clipPath id="c6"><path d="M449.7 496.6 C449.7 496.6 452.0 491.0 452.0 491.0 C452.0 491.0 481.5 466.5 493.0 457.0 C503.2 448.6 529.7 427.0 529.7 427.0 C529.7 427.0 537.0 424.2 540.0 424.4 C542.9 424.6 547.5 426.3 549.4 428.4 C551.5 430.7 553.4 439.0 553.4 439.0 C553.4 439.0 556.0 523.0 556.0 523.0 C556.0 523.0 554.8 530.5 553.4 533.0 C548.8 541.5 539.5 553.5 535.0 562.0 C532.8 566.2 531.8 573.8 529.7 578.0 C526.6 584.2 521.5 594.1 516.6 599.0 C512.4 603.2 503.9 608.7 498.0 609.5 C492.8 610.2 484.7 606.4 480.0 604.0 C474.4 601.1 465.8 595.6 461.5 591.0 C457.5 586.7 451.0 572.7 451.0 572.7 C451.0 572.7 449.7 496.6 449.7 496.6Z"/></clipPath>
<path d="M449.7 496.6 C449.7 496.6 452.0 491.0 452.0 491.0 C452.0 491.0 481.5 466.5 493.0 457.0 C503.2 448.6 529.7 427.0 529.7 427.0 C529.7 427.0 537.0 424.2 540.0 424.4 C542.9 424.6 547.5 426.3 549.4 428.4 C551.5 430.7 553.4 439.0 553.4 439.0 C553.4 439.0 556.0 523.0 556.0 523.0 C556.0 523.0 554.8 530.5 553.4 533.0 C548.8 541.5 539.5 553.5 535.0 562.0 C532.8 566.2 531.8 573.8 529.7 578.0 C526.6 584.2 521.5 594.1 516.6 599.0 C512.4 603.2 503.9 608.7 498.0 609.5 C492.8 610.2 484.7 606.4 480.0 604.0 C474.4 601.1 465.8 595.6 461.5 591.0 C457.5 586.7 451.0 572.7 451.0 572.7 C451.0 572.7 449.7 496.6 449.7 496.6Z" fill="#a0a0a0"/>
<g clip-path="url(#c6)"><path d="M450 497 L458 492 L462 590 L451 573Z" fill="#b9b9b9"/><path d="M454 505 L456 575" stroke="#6a6a6a" stroke-width="1.400" stroke-dasharray="8 3"/><path d="M530 430 L541 426 L552 436 L555 524 L545 540 L530 520Z" fill="#a8a8a8"/><path d="M520 440 L532 432 L536 500 L524 506Z" fill="#b0b0b0"/><path d="M534 452 L552 440 M534 470 L553 470 M535 515 L554 500 M535 515 L553 535 M535 515 L535 440" stroke="#6f6f6f" stroke-width=".9" fill="none"/><path d="M462 500 L520 448 L524 506 L534 520 L520 560 L500 600 L470 590 L462 560Z" fill="#9b9b9b"/><path d="M470 520 L476 590 M508 530 L500 598 M524 500 L518 562" stroke="#b6b6b6" stroke-width="3" filter="url(#b1)" fill="none"/><path d="M496 470 L494 494 M520 446 L524 490 L534 515" stroke="#777" stroke-width=".9" fill="none"/><path d="M465 560 Q480 600 520 585" stroke="#838383" stroke-width="6" filter="url(#b2)" fill="none"/><path d="M449.7 496.6 C449.7 496.6 452.0 491.0 452.0 491.0 C452.0 491.0 481.5 466.5 493.0 457.0 C503.2 448.6 529.7 427.0 529.7 427.0 C529.7 427.0 537.0 424.2 540.0 424.4 C542.9 424.6 547.5 426.3 549.4 428.4 C551.5 430.7 553.4 439.0 553.4 439.0 C553.4 439.0 556.0 523.0 556.0 523.0 C556.0 523.0 554.8 530.5 553.4 533.0 C548.8 541.5 539.5 553.5 535.0 562.0 C532.8 566.2 531.8 573.8 529.7 578.0 C526.6 584.2 521.5 594.1 516.6 599.0 C512.4 603.2 503.9 608.7 498.0 609.5 C492.8 610.2 484.7 606.4 480.0 604.0 C474.4 601.1 465.8 595.6 461.5 591.0 C457.5 586.7 451.0 572.7 451.0 572.7 C451.0 572.7 449.7 496.6 449.7 496.6Z" fill="none" stroke="#bdbdbd" stroke-width="4.500" filter="url(#b1)"/></g>
<path d="M449.7 496.6 C449.7 496.6 452.0 491.0 452.0 491.0 C452.0 491.0 481.5 466.5 493.0 457.0 C503.2 448.6 529.7 427.0 529.7 427.0 C529.7 427.0 537.0 424.2 540.0 424.4 C542.9 424.6 547.5 426.3 549.4 428.4 C551.5 430.7 553.4 439.0 553.4 439.0 C553.4 439.0 556.0 523.0 556.0 523.0 C556.0 523.0 554.8 530.5 553.4 533.0 C548.8 541.5 539.5 553.5 535.0 562.0 C532.8 566.2 531.8 573.8 529.7 578.0 C526.6 584.2 521.5 594.1 516.6 599.0 C512.4 603.2 503.9 608.7 498.0 609.5 C492.8 610.2 484.7 606.4 480.0 604.0 C474.4 601.1 465.8 595.6 461.5 591.0 C457.5 586.7 451.0 572.7 451.0 572.7 C451.0 572.7 449.7 496.6 449.7 496.6Z" fill="none" stroke="#4c4c4c" stroke-width="1"/>
<g stroke="#4c4c4c" stroke-width=".9"><ellipse cx="508.500" cy="472.500" rx="10.300" ry="14.500" transform="rotate(12 508.500 472.500)" fill="#fff"/><path d="M519 464 L527 460 L528 480 L520 484Z" fill="#a9a9a9"/><path d="M498 487 Q507 494 520 485 L520 480 Q508 488 499 482Z" fill="#a2a2a2" stroke="none"/><ellipse cx="491.700" cy="514" rx="16.500" ry="22" transform="rotate(18 491.700 514)" fill="#a3a3a3"/><ellipse cx="491" cy="514.500" rx="12" ry="17.500" transform="rotate(18 491 514.500)" fill="#c3c3c3"/><path d="M483 504 Q478 516 486 530" stroke="#8c8c8c" stroke-width="4" fill="none" filter="url(#b1)"/><path d="M497 592 l5 -3 l3 3 l-1 4 l-5 1z M521 577 l5 -3 l3 3 l-1 5 l-5 1z" fill="#b4b4b4"/></g>
<path d="M446 490 Q449 480 462 475.500 Q468 474 472 477 Q462 482 456 490 Q452 496 451.500 501 Q447 497 446 490Z" fill="#d0d0d0" stroke="#4c4c4c" stroke-width=".8"/>
<path d="M519 560.500 L539 570.500" stroke="#444" stroke-width="3.200"/><path d="M520 561 L539.500 570.700" stroke="#fff" stroke-width="1.800"/>
<path d="M399.500 416 L424 428" stroke="#333" stroke-width="1.2" fill="none"/>
<path d="M420.0 426.5 L533.0 482.7" stroke="#3a3a3a" stroke-width="2.7" stroke-dasharray="16 3 3 3" fill="none"/><path d="M420.0 426.5 L533.0 482.7" stroke="#fff" stroke-width="1.3" stroke-dasharray="16 3 3 3" fill="none"/>
<clipPath id="c9"><path d="M477.3 318.6 C477.3 318.6 481.0 311.8 482.4 308.5 C485.4 301.5 491.4 286.0 491.4 286.0 C491.4 286.0 494.7 282.0 496.0 280.0 C498.2 276.6 500.0 272.1 502.6 269.0 C506.0 265.0 510.8 261.1 515.0 258.0 C519.0 255.1 524.3 252.6 528.5 250.0 C532.2 247.7 536.3 244.8 540.0 242.5 C549.4 236.7 560.8 230.6 570.0 224.5 C573.9 221.9 577.4 217.3 581.6 215.0 C585.8 212.7 591.3 211.1 596.0 210.4 C601.1 209.6 607.4 209.5 612.5 210.4 C617.9 211.4 624.1 213.7 629.0 216.4 C633.2 218.7 638.1 222.1 641.0 226.0 C642.8 228.4 643.3 232.3 643.4 235.4 C643.6 239.9 642.7 245.2 642.0 249.6 C641.2 254.8 641.1 261.3 638.6 266.0 C636.1 270.7 631.4 275.3 626.8 278.0 C621.4 281.2 614.0 282.9 607.8 284.0 C603.8 284.7 599.0 284.4 595.0 283.7 C591.4 283.0 587.0 281.7 584.0 279.5 C581.7 277.8 579.0 272.0 579.0 272.0 C579.0 272.0 577.0 269.5 577.0 269.5 C577.0 269.5 565.3 276.6 560.0 280.0 C556.8 282.1 553.2 284.9 550.0 287.0 C547.6 288.6 544.4 290.0 542.0 291.6 C539.1 293.5 535.6 295.6 533.0 298.0 C531.3 299.6 528.5 304.0 528.5 304.0 C528.5 304.0 528.3 309.5 528.0 312.0 C527.6 315.2 526.4 318.8 526.0 322.0 C525.7 324.1 525.7 328.7 525.7 328.7 C525.7 328.7 523.0 334.5 520.6 334.4 C513.2 334.1 505.0 330.1 498.0 327.6 C491.3 325.2 477.3 318.6 477.3 318.6Z"/></clipPath>
<path d="M477.3 318.6 C477.3 318.6 481.0 311.8 482.4 308.5 C485.4 301.5 491.4 286.0 491.4 286.0 C491.4 286.0 494.7 282.0 496.0 280.0 C498.2 276.6 500.0 272.1 502.6 269.0 C506.0 265.0 510.8 261.1 515.0 258.0 C519.0 255.1 524.3 252.6 528.5 250.0 C532.2 247.7 536.3 244.8 540.0 242.5 C549.4 236.7 560.8 230.6 570.0 224.5 C573.9 221.9 577.4 217.3 581.6 215.0 C585.8 212.7 591.3 211.1 596.0 210.4 C601.1 209.6 607.4 209.5 612.5 210.4 C617.9 211.4 624.1 213.7 629.0 216.4 C633.2 218.7 638.1 222.1 641.0 226.0 C642.8 228.4 643.3 232.3 643.4 235.4 C643.6 239.9 642.7 245.2 642.0 249.6 C641.2 254.8 641.1 261.3 638.6 266.0 C636.1 270.7 631.4 275.3 626.8 278.0 C621.4 281.2 614.0 282.9 607.8 284.0 C603.8 284.7 599.0 284.4 595.0 283.7 C591.4 283.0 587.0 281.7 584.0 279.5 C581.7 277.8 579.0 272.0 579.0 272.0 C579.0 272.0 577.0 269.5 577.0 269.5 C577.0 269.5 565.3 276.6 560.0 280.0 C556.8 282.1 553.2 284.9 550.0 287.0 C547.6 288.6 544.4 290.0 542.0 291.6 C539.1 293.5 535.6 295.6 533.0 298.0 C531.3 299.6 528.5 304.0 528.5 304.0 C528.5 304.0 528.3 309.5 528.0 312.0 C527.6 315.2 526.4 318.8 526.0 322.0 C525.7 324.1 525.7 328.7 525.7 328.7 C525.7 328.7 523.0 334.5 520.6 334.4 C513.2 334.1 505.0 330.1 498.0 327.6 C491.3 325.2 477.3 318.6 477.3 318.6Z" fill="#939393" stroke="#4c4c4c" stroke-width="1"/>
<g clip-path="url(#c9)"><path d="M577 268 L612 250 L644 236 L642 275 L625 286 L600 287 L578 276Z" fill="#959595"/><path d="M580 272 Q590 286 612 286 Q630 284 640 270" stroke="#777" stroke-width="5" fill="none" filter="url(#b2)"/><path d="M604 256 Q622 250 641 252 L640 260 Q622 258 606 264Z" fill="#b6b6b6" filter="url(#b1)"/><path d="M596 262 Q604 272 622 272 Q634 270 640 262" stroke="#7e7e7e" stroke-width="1" fill="none"/><path d="M577 269.500 L600 256.500 L614 250 Q622 246 626 240" stroke="#666" stroke-width=".9" fill="none"/><path d="M478 318 L482 308 L491 286 L496 280 L502.600 269 L515 258 L528.500 250 L540 242.500 L570 224.500 L582 215 L596 210 L613 210 L630 216 L642 226 L644 236 L630 245 L622 236 L612.500 230 L600 234 L580 244 L560 254 L550 264.600 L534 276 L529.600 287 L526 297 L524 330Z" fill="#acacac"/><path d="M500 300 Q504 282 520 266 Q536 254 560 240" stroke="#dcdcdc" stroke-width="7" fill="none" filter="url(#b2)"/><path d="M526 297 L529.600 287 L534 276 L550 264.600 L560 254 L580 244 L600 234 L612.500 230 L622 235 L630 246" stroke="#c2c2c2" stroke-width="2.400" fill="none" filter="url(#b1)"/><path d="M533 296 L550 284 L576 268 L610 250" stroke="#858585" stroke-width="4" fill="none" filter="url(#b2)"/><path d="M491.400 286 Q510 288 528.500 304 M489.500 291 Q508 293 528.300 309 M487 297 Q506 299 527.500 315" stroke="#6a6a6a" stroke-width=".9" fill="none"/><path d="M479 317 Q500 321 524 331" stroke="#d2d2d2" stroke-width="3" fill="none" filter="url(#b1)"/><path d="M488 300 L522 316 L521 326 L483 314Z" fill="#c4c4c4" opacity=".7" filter="url(#b1)"/></g>
<rect x="490.500" y="316" width="6" height="5" rx="1" fill="#d4d4d4" stroke="#4c4c4c" stroke-width=".8" transform="rotate(18 493 318)"/>
<path d="M636 221 l6 -3 l2 4 l-5 3 M637 228 l8 -2 M624 250 l14 -3 M624 255 l14 -2" stroke="#4c4c4c" stroke-width=".9" fill="none"/>
<path d="M497.700 330 L490.700 351" stroke="#333" stroke-width="1.200"/>
<linearGradient id="gSk" gradientUnits="userSpaceOnUse" x1="552" y1="0" x2="600" y2="0"><stop offset="0" stop-color="#b4b4b4"/><stop offset=".45" stop-color="#a3a3a3"/><stop offset="1" stop-color="#8c8c8c"/></linearGradient>
<path d="M551.0 358.0 C551.0 358.0 552.3 388.2 553.0 400.0 C553.4 407.0 555.0 425.0 555.0 425.0 C555.0 425.0 558.3 428.7 560.0 429.5 C561.5 430.2 564.4 430.2 566.0 429.8 C568.2 429.2 571.5 427.6 573.0 426.0 C575.2 423.6 577.5 418.9 579.0 416.0 C580.9 412.2 583.2 405.9 585.0 402.0 C586.6 398.6 589.1 393.2 591.0 390.0 C592.7 387.1 595.8 382.6 598.0 380.0 C599.8 377.9 605.0 373.0 605.0 373.0 C605.0 373.0 605.0 364.0 605.0 364.0 C605.0 364.0 551.0 358.0 551.0 358.0Z" fill="url(#gSk)" stroke="#4c4c4c" stroke-width="1"/>
<clipPath id="c8"><path d="M539.5 351.0 C540.0 348.3 544.5 345.8 546.6 344.0 C561.1 331.8 584.2 312.9 599.0 301.0 C602.3 298.4 607.2 293.7 611.0 292.0 C614.6 290.4 621.0 289.5 625.0 289.5 C628.4 289.5 634.1 290.2 637.0 292.0 C639.2 293.4 640.3 297.8 641.6 300.0 C642.8 302.0 644.1 305.6 646.0 307.0 C662.3 319.1 689.8 335.4 706.0 347.7 C707.4 348.7 708.5 352.2 707.5 353.6 C705.2 356.9 699.8 360.9 696.0 362.0 C687.0 364.6 672.2 365.3 663.0 366.7 C657.0 367.6 647.6 369.2 641.6 370.0 C635.6 370.8 626.0 371.5 620.0 372.6 C617.4 373.1 613.6 375.3 611.0 375.5 C608.2 375.7 603.5 375.3 601.0 374.0 C599.8 373.4 600.3 369.8 599.0 369.5 C596.2 368.9 591.8 371.5 589.0 371.4 C581.7 371.1 570.0 370.1 563.0 368.0 C557.2 366.3 548.9 361.5 544.0 358.0 C542.1 356.6 539.1 353.3 539.5 351.0Z"/></clipPath>
<path d="M539.5 351.0 C540.0 348.3 544.5 345.8 546.6 344.0 C561.1 331.8 584.2 312.9 599.0 301.0 C602.3 298.4 607.2 293.7 611.0 292.0 C614.6 290.4 621.0 289.5 625.0 289.5 C628.4 289.5 634.1 290.2 637.0 292.0 C639.2 293.4 640.3 297.8 641.6 300.0 C642.8 302.0 644.1 305.6 646.0 307.0 C662.3 319.1 689.8 335.4 706.0 347.7 C707.4 348.7 708.5 352.2 707.5 353.6 C705.2 356.9 699.8 360.9 696.0 362.0 C687.0 364.6 672.2 365.3 663.0 366.7 C657.0 367.6 647.6 369.2 641.6 370.0 C635.6 370.8 626.0 371.5 620.0 372.6 C617.4 373.1 613.6 375.3 611.0 375.5 C608.2 375.7 603.5 375.3 601.0 374.0 C599.8 373.4 600.3 369.8 599.0 369.5 C596.2 368.9 591.8 371.5 589.0 371.4 C581.7 371.1 570.0 370.1 563.0 368.0 C557.2 366.3 548.9 361.5 544.0 358.0 C542.1 356.6 539.1 353.3 539.5 351.0Z" fill="#a2a2a2" stroke="#4c4c4c" stroke-width="1"/>
<g clip-path="url(#c8)"><path d="M543.0 350.0 C543.2 347.5 547.1 345.1 549.0 343.5 C563.1 331.5 585.6 313.1 600.0 301.5 C603.2 298.9 608.2 294.6 612.0 293.0 C615.4 291.6 621.3 290.9 625.0 291.0 C628.2 291.1 633.4 291.7 636.0 293.5 C638.0 294.8 638.8 299.0 640.0 301.0 C641.3 303.2 643.0 307.0 645.0 308.5 C660.5 320.1 686.5 335.9 702.0 347.5 C702.8 348.1 702.7 350.3 702.0 351.0 C699.9 353.0 695.8 355.4 693.0 356.0 C684.4 357.7 670.7 358.1 662.0 359.0 C655.8 359.6 646.2 360.9 640.0 361.5 C633.9 362.1 624.2 362.9 618.0 363.0 C614.6 363.0 609.4 362.1 606.0 362.0 C603.8 361.9 600.2 362.2 598.0 362.5 C595.2 362.9 590.9 364.5 588.0 364.5 C581.5 364.4 571.3 363.5 565.0 362.0 C560.0 360.8 552.5 357.5 548.0 355.0 C546.3 354.1 542.8 352.0 543.0 350.0Z" fill="#bebebe"/><path d="M546 356 Q560 364 590 366.500 L600 364 L620 365 L662 361 L694 358 L703 352" stroke="#d4d4d4" stroke-width="2.200" fill="none" filter="url(#b1)"/><path d="M549 345 L601 303 Q604 306 606 314 Q604 322 598 326 L578 343 Q568 349 556 348Z" fill="#b1b1b1" stroke="#8f8f8f" stroke-width=".8"/><path d="M660 330 L698 350 L660 356 L630 350Z" fill="#c6c6c6" filter="url(#b2)"/></g>
<g stroke="#6e6e6e" stroke-width=".7"><path d="M575 327 L585 319 L590 322 L590 328 L580 336 L575 333Z" fill="#8e8e8e"/><path d="M578 325 l7 -5.500 l0 6 l-7 5.500z" fill="#7a7a7a" stroke="none"/></g>
<path d="M634 371 l0 4 l4 0" stroke="#4c4c4c" stroke-width=".8" fill="none"/>
<g stroke="#b2b2b2" stroke-width=".9" stroke-linejoin="round"><path d="M245 588 Q246 583 250 583 L260 584 L290 604 Q294 607 294 612 L292 624 L284 640 L246 618 L245 600Z" fill="#e4e4e4"/><path d="M260 584 L262 600 L290 618 L292 624 M262 600 L248 606" fill="none"/><ellipse cx="254" cy="590" rx="7.500" ry="5.500" fill="#f6f6f6"/><ellipse cx="255" cy="591" rx="4.500" ry="3.300" fill="#fff" stroke="#c4c4c4"/><path d="M296 666 L308 658 L316 652 Q322 649 328 650 Q336 650 340 654 Q345 658 344 662 Q340 668 334 672 L318 710 L308 718 L286 706 L284 698 L290 692 L290 678Z" fill="#ededed"/><ellipse cx="329" cy="659" rx="9" ry="6.500" fill="#f4f4f4"/><ellipse cx="330" cy="660" rx="5.500" ry="4" fill="#fff" stroke="#c4c4c4"/><path d="M296 666 L320 678 L334 672 M320 678 L308 718" fill="none"/><ellipse cx="296" cy="699" rx="9" ry="8" fill="#f3f3f3"/><ellipse cx="293.500" cy="700" rx="4" ry="4.500" fill="#fff" stroke="#c4c4c4"/><path d="M266 646 L288 646 L308 658 L296 666 L268 656Z" fill="#e2e2e2"/><path d="M219 618 L230 611 L246 616 L284 638 L288 646 L266 646 L264 664 L250 668 L246 664 L240 668 L222 664 L213.500 656 L215 638Z" fill="#efefef"/><path d="M219 618 L262 640 L266 646 M262 640 L284 638 M236 613.500 L241 618 L246 616" fill="none"/><ellipse cx="225" cy="659.500" rx="9.500" ry="8.500" fill="#f3f3f3"/><ellipse cx="221.500" cy="660.500" rx="4" ry="4.500" fill="#fff" stroke="#c4c4c4"/></g>
<g stroke="#333" stroke-width="1.1" fill="none"><path d="M241 560.500 L241 618" stroke-dasharray="36 3 3 3 13"/><path d="M312.700 591 L312.700 662" stroke-dasharray="34 4 3 4 26"/><path d="M334 596 L295 616" stroke-dasharray="25 3 3 3 12"/><path d="M204 668.600 L222 660.500"/><path d="M359 662 L334 675.400"/></g>
<g stroke="#444" stroke-width=".8"><ellipse cx="240.500" cy="553.500" rx="8.500" ry="4.500" fill="#e8e8e8"/><path d="M232.500 538 Q232 533 236 533.500 L239 535 L240 533 L243 533 L244 535.500 L248 535 Q250 538 249.500 542 L249 551 Q241 555 233 550Z" fill="#a6a6a6"/><path d="M239.500 535 L240 547 M244 535.500 L244 547" stroke="#555"/></g>
<g stroke="#444" stroke-width=".8"><path d="M300 570 L306 566 L311 567.500 L312 572 L317 575 L318 581 L312 585 L306 584 L300 579Z" fill="#999"/><path d="M306 575 l6 -3 M311 584 l1 5 l3 0 l0 -5" fill="#aaa"/></g>
<g stroke="#444" stroke-width=".8"><ellipse cx="340" cy="593.500" rx="6" ry="8.500" transform="rotate(-25 340 593.500)" fill="#999"/><ellipse cx="341.500" cy="594" rx="3.500" ry="5" transform="rotate(-25 341.500 594)" fill="#c8c8c8"/></g>
<g transform="translate(360.0 662.0) rotate(-29.1)"><rect x="0" y="-3.2" width="29.8" height="6.4" rx="2.6" fill="url(#gBolt)" stroke="#7a7a7a" stroke-width=".6"/><path d="M2.0 -3.2 L3.5 3.2M5.0 -3.2 L6.5 3.2M8.0 -3.2 L9.5 3.2M10.9 -3.2 L12.4 3.2M13.9 -3.2 L15.4 3.2M16.9 -3.2 L18.4 3.2M19.9 -3.2 L21.4 3.2M22.8 -3.2 L24.3 3.2" stroke="#777" stroke-width=".8" fill="none" opacity=".8"/></g>
<g stroke="#444" stroke-width=".8"><path d="M385 644 L392 640 L397 643 L398 649 L391 653 L386 651Z" fill="#8a8a8a"/><path d="M383.500 645 L388 653" stroke-width="2.400" stroke="#777"/></g>
<g transform="translate(164.5 691.0) rotate(-27.4)"><rect x="0" y="-3.2" width="44.5" height="6.4" rx="2.6" fill="url(#gBolt)" stroke="#7a7a7a" stroke-width=".6"/><path d="M2.0 -3.2 L3.5 3.2M5.0 -3.2 L6.5 3.2M7.9 -3.2 L9.4 3.2M10.9 -3.2 L12.4 3.2M13.9 -3.2 L15.4 3.2M16.8 -3.2 L18.3 3.2M19.8 -3.2 L21.3 3.2M22.8 -3.2 L24.3 3.2M25.7 -3.2 L27.2 3.2M28.7 -3.2 L30.2 3.2M31.7 -3.2 L33.2 3.2M34.6 -3.2 L36.1 3.2" stroke="#777" stroke-width=".8" fill="none" opacity=".8"/></g>
<g stroke="#444" stroke-width=".8"><ellipse cx="419" cy="502" rx="4.500" ry="5.500" transform="rotate(-20 419 502)" fill="#8a8a8a"/><path d="M421 503 L428 507" stroke="#777" stroke-width="3"/></g>
<path d="M426 506 L446.600 518.500" stroke="#333" stroke-width="1.100"/>
<g stroke="#444" stroke-width=".8"><ellipse cx="256" cy="500.500" rx="3.500" ry="5.500" transform="rotate(-25 256 500.500)" fill="#8a8a8a"/><path d="M251.500 497 l4 -2 l2 3 l-4 3z M258 499 l4 -1.500 l1 3 l-4 2z" fill="#777"/></g>
<path d="M263.500 496 L283 487.500" stroke="#333" stroke-width="1.100"/>
<path d="M381 337.500 Q347.500 436 305.800 530.600 L311.200 533 Q349.500 437 381.900 337.800Z" fill="#0a0a0a"/>
<path d="M238.0 231.6 L265.0 271.3M156.2 286.2 L135.6 315.6M193.8 305.0 L173.5 334.0M333.7 300.5 L362.0 305.5M223.0 487.0 L248.5 497.5M374.5 463.0 L386.5 439.0M671.0 201.5 L637.7 222.5M652.5 399.0 L632.5 374.7M584.7 502.0 L557.0 507.0M412.5 534.7 L422.0 512.0M207.4 567.4 L231.0 554.0M285.0 547.0 L302.0 565.7M356.5 560.6 L345.7 584.0M391.3 675.4 L376.0 660.0M200.6 707.4 L183.7 690.6" stroke="#1e1e1e" stroke-width="1.600" fill="none" stroke-linecap="round"/>
<path d="M386 43 L360 56 M437.800 48.700 L419 83.800 M437.800 48.700 L465 58.800 M604 39.700 L574 69.500" stroke="#1e1e1e" stroke-width="1.600" fill="none" stroke-linecap="round"/>
<path d="M540.500 659.200 Q546 654.500 556 653.300 Q570 652.800 582 655.300 Q588 655.300 590 652.200 Q592 655.300 598 655.300 Q610 652.800 624 653.300 Q634 654.500 639.500 659.200 Q634 656.800 624 655.900 Q610 655.600 598 657.200 Q592 657.200 590 654.800 Q588 657.200 582 657.200 Q570 655.600 556 655.900 Q546 656.800 540.500 659.200Z" fill="#111" stroke="#111" stroke-width=".3"/>
<path d="M511 737.500 L511 721.500 L591 721.500 L591 737.500" stroke="#8a8a8a" stroke-width="1" fill="none"/>
<g font-family="'Liberation Sans', sans-serif" font-weight="bold" stroke-width=".5"><text transform="translate(153.82 21.10) scale(1.075 1)" font-size="16.4" fill="#0c0c0c" stroke="#0c0c0c">4</text><text transform="translate(231.52 21.10) scale(0.976 1)" font-size="16.4" fill="#0c0c0c" stroke="#0c0c0c">5</text><text transform="translate(298.90 21.10) scale(1.116 1)" font-size="16.4" fill="#0c0c0c" stroke="#0c0c0c">10</text><text transform="translate(142.61 115.10) scale(1.201 1)" font-size="16.4" fill="#0c0c0c" stroke="#0c0c0c">70</text><text transform="translate(220.26 115.10) scale(1.133 1)" font-size="16.4" fill="#0c0c0c" stroke="#0c0c0c">74</text><text transform="translate(298.23 115.10) scale(1.177 1)" font-size="16.4" fill="#0c0c0c" stroke="#0c0c0c">76</text><text transform="translate(687.95 20.90) scale(1.136 1)" font-size="16.4" fill="#0c0c0c" stroke="#0c0c0c">72</text><text transform="translate(388.44 43.20) scale(1.102 1)" font-size="16.0" fill="#0c0c0c" stroke="#0c0c0c">15</text><text transform="translate(430.41 43.20) scale(1.237 1)" font-size="16.0" fill="#0c0c0c" stroke="#0c0c0c">2</text><text transform="translate(604.81 37.20) scale(0.931 1)" font-size="16.0" fill="#0c0c0c" stroke="#0c0c0c">1</text><text transform="translate(224.65 228.90) scale(1.103 1)" font-size="16.0" fill="#0c0c0c" stroke="#0c0c0c">A</text><text transform="translate(148.66 282.65) scale(1.139 1)" font-size="16.0" fill="#3a2e1c" stroke="#3a2e1c">14</text><text transform="translate(185.74 301.15) scale(1.206 1)" font-size="16.0" fill="#0c0c0c" stroke="#0c0c0c">16</text><text transform="translate(320.64 305.90) scale(1.125 1)" font-size="16.0" fill="#0c0c0c" stroke="#0c0c0c">3</text><text transform="translate(675.45 200.90) scale(1.148 1)" font-size="16.0" fill="#0c0c0c" stroke="#0c0c0c">9</text><text transform="translate(654.42 416.60) scale(1.213 1)" font-size="16.0" fill="#0c0c0c" stroke="#0c0c0c">8</text><text transform="translate(197.85 486.90) scale(1.199 1)" font-size="16.0" fill="#0c0c0c" stroke="#0c0c0c">10</text><text transform="translate(367.75 476.40) scale(1.172 1)" font-size="16.0" fill="#0c0c0c" stroke="#0c0c0c">7</text><text transform="translate(589.06 507.90) scale(1.122 1)" font-size="16.0" fill="#0c0c0c" stroke="#0c0c0c">6</text><text transform="translate(393.85 550.20) scale(1.170 1)" font-size="16.0" fill="#0c0c0c" stroke="#0c0c0c">72</text><text transform="translate(185.68 578.90) scale(1.121 1)" font-size="16.0" fill="#0c0c0c" stroke="#0c0c0c">74</text><text transform="translate(267.28 545.30) scale(1.128 1)" font-size="16.0" fill="#0c0c0c" stroke="#0c0c0c">76</text><text transform="translate(348.21 558.90) scale(1.231 1)" font-size="16.0" fill="#0c0c0c" stroke="#0c0c0c">70</text><text transform="translate(387.79 688.90) scale(1.330 1)" font-size="16.0" fill="#0c0c0c" stroke="#0c0c0c">4</text><text transform="translate(200.04 720.90) scale(1.175 1)" font-size="16.0" fill="#0c0c0c" stroke="#0c0c0c">5</text><text transform="translate(581.66 645.90) scale(1.081 1)" font-size="16.0" fill="#0c0c0c" stroke="#0c0c0c">11</text><text transform="translate(541.93 674.60) scale(1.135 1)" font-size="16.4" fill="#0c0c0c" stroke="#0c0c0c">A + 14 + 16</text><text transform="translate(514.70 737.40) scale(1.220 1)" font-size="16.4" fill="#0c0c0c" stroke="#0c0c0c">06/2009</text><text transform="translate(601.64 737.40) scale(1.181 1)" font-size="16.4" fill="#0c0c0c" stroke="#0c0c0c">1700L50M</text></g>
</g>
</svg>
</body></html>
